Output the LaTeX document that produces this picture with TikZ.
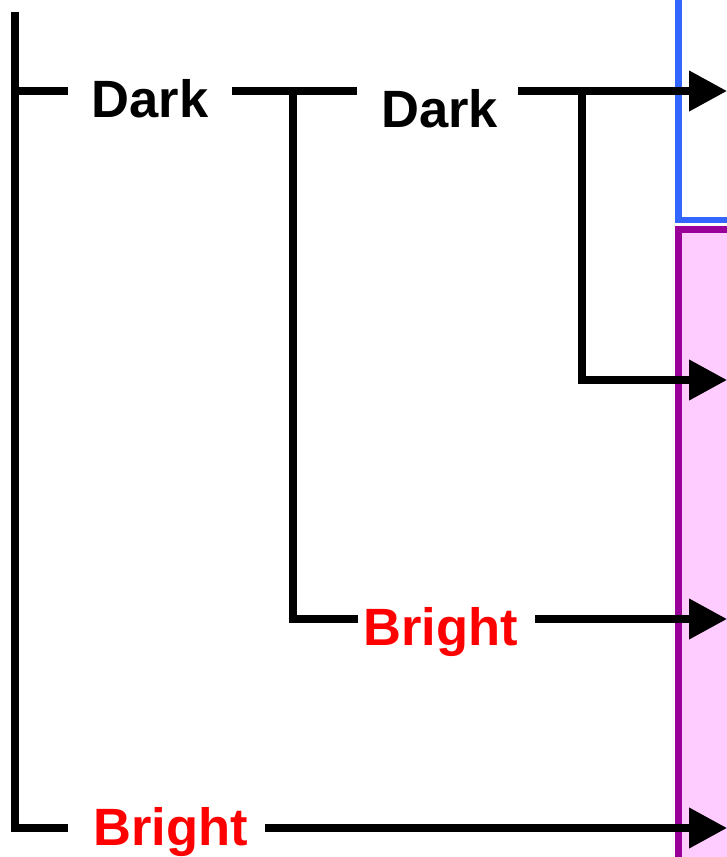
\documentclass[tikz,border=0pt]{standalone}
\usepackage{fontspec}
\setmainfont{Liberation Sans}
\usetikzlibrary{arrows.meta}
\definecolor{boxblue}{HTML}{3366FF}
\definecolor{boxpurple}{HTML}{990099}
\definecolor{boxpink}{HTML}{FFCCFF}
\definecolor{brightred}{HTML}{FF0000}
\tikzset{
  wire/.style={line width=7.5pt, line cap=butt, line join=miter},
  arr/.style={wire, -{Triangle[length=38pt,width=39pt]}},
  lab/.style={inner sep=0pt, anchor=base west, font=\fontsize{52.5}{60}\selectfont\bfseries},
  dark/.style={lab, text=black},
  bright/.style={lab, text=brightred},
}
\begin{document}
\begin{tikzpicture}[x=1pt,y=-1pt]
\useasboundingbox (0,0) rectangle (727,857);
\begin{scope}
\clip (0,0) rectangle (727,857);
\draw[boxblue, line width=6.5pt, fill=white] (678.5,-20) rectangle (760,220);
\draw[boxpurple, line width=6.5pt, fill=boxpink] (678.5,229.5) rectangle (760,880);
\end{scope}
% text nodes
\node[dark] (d1) at (91.5,117.5) {Dark};
\node[dark] (d2) at (381,127.5) {Dark};
\node[bright] (b1) at (363,645.5) {Bright};
\node[bright] (b2) at (93,845.5) {Bright};
% coordinates
\coordinate (top) at (15,12);
\coordinate (corner) at (15,828);
\coordinate (br1) at (15,91);
\coordinate (d1in) at (68,91);
\coordinate (d1out) at (232,91);
\coordinate (j1) at (293,91);
\coordinate (d2in) at (357,91);
\coordinate (j1b) at (293,619);
\coordinate (b1in) at (358,619);
\coordinate (d2out) at (518,91);
\coordinate (j2) at (582,91);
\coordinate (j2b) at (582,380);
\coordinate (b1out) at (535,619);
\coordinate (b2in) at (68,828);
\coordinate (b2out) at (265,828);
\coordinate (t1) at (727,91);
\coordinate (t2) at (727,380);
\coordinate (t3) at (727,619);
\coordinate (t4) at (727,828);
% wires
\draw[wire] (top) -- (corner) -- (b2in);
\draw[wire] (br1) -- (d1in);
\draw[wire] (d1out) -- (d2in);
\draw[wire] (j1) -- (j1b) -- (b1in);
\draw[arr] (d2out) -- (t1);
\draw[arr] (j2) -- (j2b) -- (t2);
\draw[arr] (b1out) -- (t3);
\draw[arr] (b2out) -- (t4);
\end{tikzpicture}
\end{document}
